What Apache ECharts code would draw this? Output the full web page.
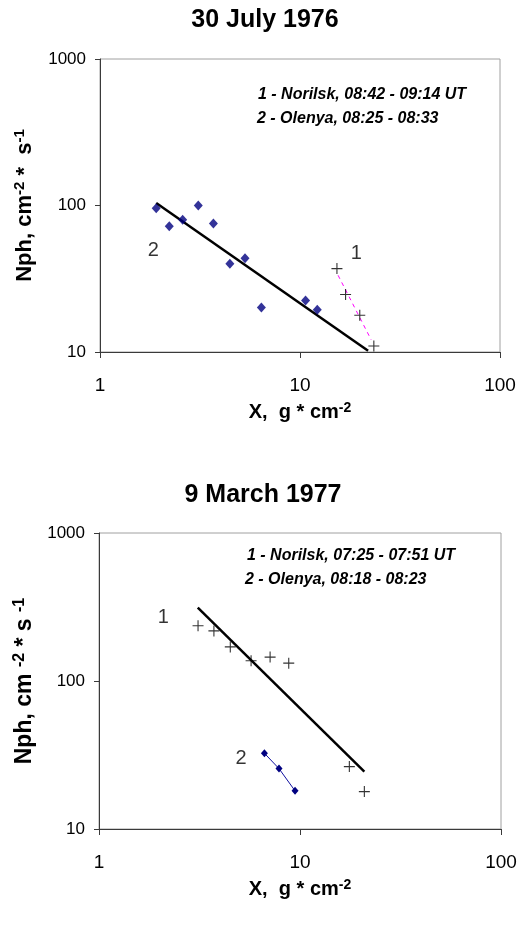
<!DOCTYPE html>
<html>
<head>
<meta charset="utf-8">
<script src="https://cdn.jsdelivr.net/npm/echarts@6/dist/echarts.min.js"></script>
<style>html,body{margin:0;padding:0;background:#fff}#c{width:521px;height:926px}</style>
</head>
<body>
<div id="c"></div>
<script>
// ---- Data ----
const xTicks = [1, 10, 100];
const yTicks = [10, 100, 1000];

// Top panel: 30 July 1976
const topTitle = '30 July 1976';
const topLegend1 = '1 - Norilsk, 08:42 - 09:14 UT';
const topLegend2 = '2 - Olenya, 08:25 - 08:33';
const topOlenyaX = [1.91, 2.22, 2.59, 3.10, 3.69, 4.46, 5.31, 6.41, 10.66, 12.2];
const topOlenyaY = [95.9, 72.3, 80.0, 100, 75.4, 40.1, 43.6, 20.1, 22.5, 19.4];
const topNorilskX = [15.3, 16.9, 19.9, 23.4];
const topNorilskY = [37.1, 24.7, 17.8, 11.0];
const topFitX = [1.91, 21.9];
const topFitY = [104, 10.2];
const topNorilskFitX = [15.5, 22.7];
const topNorilskFitY = [33.4, 12.1];
const topLabelText = ['2', '1'];
const topLabelX = [1.85, 19.1];
const topLabelY = [49.4, 47.4];

// Bottom panel: 9 March 1977
const botTitle = '9 March 1977';
const botLegend1 = '1 - Norilsk, 07:25 - 07:51 UT';
const botLegend2 = '2 - Olenya, 08:18 - 08:23';
const botNorilskX = [3.11, 3.73, 4.50, 5.71, 7.10, 8.79, 17.6, 20.9];
const botNorilskY = [236, 218, 170, 137, 145, 132, 26.4, 17.9];
const botFitX = [3.10, 20.9];
const botFitY = [313, 24.4];
const botOlenyaX = [6.65, 7.86, 9.45];
const botOlenyaY = [32.5, 25.6, 18.1];
const botLabelText = ['1', '2'];
const botLabelX = [2.09, 5.09];
const botLabelY = [269, 30.0];

// ---- Helpers ----
const FONT = '"Liberation Sans", Arial, sans-serif';
const zip = (xs, ys) => xs.map((x, i) => [x, ys[i]]);
const PLUS = 'path://M4.5,0 H5.5 V4.5 H10 V5.5 H5.5 V10 H4.5 V5.5 H0 V4.5 H4.5 Z';
const AXIS_DARK = '#3a3a3a';

function xAxisCfg(gi) {
  return {
    type: 'log', logBase: 10, gridIndex: gi, min: xTicks[0], max: xTicks[xTicks.length - 1],
    axisLine: { show: true, lineStyle: { color: AXIS_DARK, width: 1 } },
    axisTick: { show: true, inside: false, length: 6, lineStyle: { color: AXIS_DARK } },
    minorTick: { show: false },
    splitLine: { show: false },
    axisLabel: { color: '#000', fontSize: 19, fontFamily: FONT, margin: 24, formatter: v => String(v) },
    name: 'X,  g * cm{sup|-2}',
    nameLocation: 'middle',
    nameGap: 49,
    nameTextStyle: {
      color: '#000', fontSize: 20, fontWeight: 'bold', fontFamily: FONT,
      rich: {
        sup: { fontSize: 14, fontWeight: 'bold', fontFamily: FONT, color: '#000', verticalAlign: 'top', padding: [0, 0, 9, 0] }
      }
    }
  };
}
function yAxisCfg(gi, name, fs, gap) {
  return {
    type: 'log', logBase: 10, gridIndex: gi, min: yTicks[0], max: yTicks[yTicks.length - 1],
    axisLine: { show: true, lineStyle: { color: AXIS_DARK, width: 1 } },
    axisTick: { show: true, inside: false, length: 5, lineStyle: { color: AXIS_DARK } },
    minorTick: { show: false },
    splitLine: { show: false },
    axisLabel: { color: '#000', fontSize: 17, fontFamily: FONT, margin: 14, formatter: v => String(v) },
    name: name,
    nameLocation: 'middle',
    nameRotate: 90,
    nameGap: gap,
    nameTextStyle: {
      color: '#000', fontSize: fs, fontWeight: 'bold', fontFamily: FONT,
      rich: {
        sup: { fontSize: Math.round(fs * 0.68), fontWeight: 'bold', fontFamily: FONT, color: '#000', verticalAlign: 'top', padding: [0, 0, 10, 0] }
      }
    }
  };
}
function labelSeries(xi, texts, xs, ys) {
  return {
    type: 'scatter', xAxisIndex: xi, yAxisIndex: xi, symbolSize: 0, silent: true,
    data: xs.map((x, i) => ({ value: [x, ys[i]], label: { formatter: texts[i] } })),
    label: { show: true, position: 'inside', color: '#000', fontSize: 20, fontFamily: FONT }
  };
}
const legendFont = 'italic bold 16px ' + FONT;

const chart = echarts.init(document.getElementById('c'), null, { renderer: 'canvas' });
chart.setOption({
  backgroundColor: '#fff',
  animation: false,
  title: [
    { text: topTitle, left: 260, top: 3, textAlign: 'center',
      textStyle: { fontSize: 25, fontWeight: 'bold', fontFamily: FONT, color: '#000' } },
    { text: botTitle, left: 258, top: 478, textAlign: 'center',
      textStyle: { fontSize: 25, fontWeight: 'bold', fontFamily: FONT, color: '#000' } }
  ],
  grid: [
    { left: 100, top: 59, width: 400, height: 293, show: true, borderColor: '#a0a0a0', borderWidth: 1, backgroundColor: 'transparent' },
    { left: 99, top: 533, width: 402, height: 296, show: true, borderColor: '#a0a0a0', borderWidth: 1, backgroundColor: 'transparent' }
  ],
  xAxis: [xAxisCfg(0), xAxisCfg(1)],
  yAxis: [
    yAxisCfg(0, 'Nph, cm{sup|-2} *  s{sup|-1}', 22, 63),
    yAxisCfg(1, 'Nph, cm {sup|-2} * s {sup|-1}', 23, 60)
  ],
  graphic: [
    { type: 'text', left: 258, top: 87, style: { text: topLegend1, font: legendFont, fill: '#000' } },
    { type: 'text', left: 257, top: 111, style: { text: topLegend2, font: legendFont, fill: '#000' } },
    { type: 'text', left: 247, top: 548, style: { text: botLegend1, font: legendFont, fill: '#000' } },
    { type: 'text', left: 245, top: 572, style: { text: botLegend2, font: legendFont, fill: '#000' } }
  ],
  series: [
    // top panel
    { type: 'line', xAxisIndex: 0, yAxisIndex: 0, data: zip(topFitX, topFitY), symbol: 'none',
      lineStyle: { color: '#000', width: 2.5 }, silent: true, z: 3 },
    { type: 'line', xAxisIndex: 0, yAxisIndex: 0, data: zip(topNorilskFitX, topNorilskFitY), symbol: 'none',
      lineStyle: { color: '#ff00ff', width: 1, type: [4, 4] }, silent: true, z: 2 },
    { type: 'scatter', xAxisIndex: 0, yAxisIndex: 0, data: zip(topOlenyaX, topOlenyaY), symbol: 'diamond',
      symbolSize: [9, 10], itemStyle: { color: '#000080' }, z: 4 },
    { type: 'scatter', xAxisIndex: 0, yAxisIndex: 0, data: zip(topNorilskX, topNorilskY), symbol: PLUS,
      symbolSize: 11, itemStyle: { color: '#000' }, z: 4 },
    labelSeries(0, topLabelText, topLabelX, topLabelY),
    // bottom panel
    { type: 'line', xAxisIndex: 1, yAxisIndex: 1, data: zip(botFitX, botFitY), symbol: 'none',
      lineStyle: { color: '#000', width: 2.5 }, silent: true, z: 3 },
    { type: 'line', xAxisIndex: 1, yAxisIndex: 1, data: zip(botOlenyaX, botOlenyaY), symbol: 'diamond',
      symbolSize: [7, 8], showSymbol: true, itemStyle: { color: '#000080' },
      lineStyle: { color: '#1010a0', width: 1 }, z: 4 },
    { type: 'scatter', xAxisIndex: 1, yAxisIndex: 1, data: zip(botNorilskX, botNorilskY), symbol: PLUS,
      symbolSize: 11, itemStyle: { color: '#000' }, z: 4 },
    labelSeries(1, botLabelText, botLabelX, botLabelY)
  ]
});
</script>
</body>
</html>
